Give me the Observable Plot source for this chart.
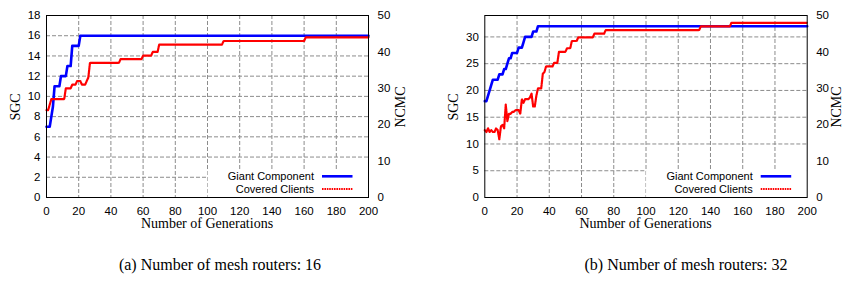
<!DOCTYPE html>
<html><head><meta charset="utf-8">
<script src="https://cdn.jsdelivr.net/npm/d3@7"></script>
<script src="https://cdn.jsdelivr.net/npm/@observablehq/plot@0.6"></script>
<style>
html,body{margin:0;padding:0;background:#fff}
body{width:843px;height:285px;overflow:hidden;position:relative}
.panel{position:absolute;top:0}
.cap{position:absolute;top:256px;font-family:"Liberation Serif",serif;font-size:16px;transform:translateX(-50%);white-space:nowrap;color:#000}
</style></head><body>
<div id="pa" class="panel" style="left:0"></div>
<div id="pb" class="panel" style="left:421px"></div>
<div class="cap" style="left:220px">(a) Number of mesh routers: 16</div>
<div class="cap" style="left:686px">(b) Number of mesh routers: 32</div>
<script>
// ---- data: panel (a), 16 mesh routers ----
const giantA_gen = [0,2,3,4,5,8,9,12,13,15,16,20,21,200];
const giantA_sgc = [7,7,8,9,11,11,12,12,13,13,15,15,16,16];
const coveredA_gen = [0,1,3,11,12,15,16,18,19,21,22,24,25,26,27,45,46,59,60,65,66,69,70,109,110,160,161,200];
const coveredA_ncmc = [24,24,27,27,30,30,31,31,32,32,31,31,32,33,37,37,38,38,39,39,40,40,42,42,43,43,44,44];
// ---- data: panel (b), 32 mesh routers ----
const giantB_gen = [0,1,5,8,9,11,12,13,14,15,16,17,20,21,23,24,25,29,30,32,33,200];
const giantB_sgc = [18,18,22,22,23,23,24,24,25,26,26,27,27,28,28,29,30,30,31,31,32,32];
const coveredB_gen = [0,1,2,3,4,5,6,7,8,9,10,11,12,13,14,15,16,17,18,19,20,21,22,23,24,25,26,27,28,29,30,31,32,33,35,36,37,38,42,43,45,46,50,51,53,54,57,58,67,68,74,75,133,134,152,153,200];
const coveredB_ncmc = [18.5,18,19,18,18.5,18,18,19,18.5,16,19.5,20,19,25.5,21,23,23,23.5,23.5,24,24,24,23,27,26,27,27,27,27.5,28.5,25,25,28,30,30,34,34.5,36,36,37,37,40,40,41,41,43,43,44,44,45,45,46,46,47,47,48,48];
// ---- axes ----
const genTicks = [0,20,40,60,80,100,120,140,160,180,200];
const sgcTicksA = [0,2,4,6,8,10,12,14,16,18];
const sgcTicksB = [0,5,10,15,20,25,30];
const ncmcTicks = [0,10,20,30,40,50];
const sgcMaxA = 18, sgcMaxB = 34, ncmcMax = 50;
const seriesNames = ["Giant Component","Covered Clients"];

function panel(el, o){
  const k = o.yMax / ncmcMax;
  const gc = o.gGen.map((g,i)=>({gen:g, v:o.gVal[i]}));
  const cc = o.cGen.map((g,i)=>({gen:g, v:o.cVal[i]*k}));
  const grid = {stroke:"#8c8c8c", strokeOpacity:1, strokeWidth:1, strokeDasharray:"4,2"};
  const chart = Plot.plot({
    width:o.width, height:240,
    marginLeft:o.ml, marginRight:o.mr, marginTop:15, marginBottom:43,
    x:{domain:[0,200]},
    y:{domain:[0,o.yMax]},
    style:{fontFamily:"'Liberation Sans',Arial,sans-serif", fontSize:"11.5px", color:"#000", background:"transparent", overflow:"visible"},
    marks:[
      Plot.gridX(genTicks.slice(1,-1), grid),
      Plot.gridY(o.yTicks.slice(1).filter(v=>v<o.yMax), grid),
      Plot.lineY(gc,{x:"gen", y:"v", stroke:"#0000ff", strokeWidth:2.6}),
      Plot.lineY(cc,{x:"gen", y:"v", stroke:"#ff0000", strokeWidth:2.2, strokeDasharray:"1.6,0.8"}),
      Plot.axisX(genTicks,{tickSize:0, tickPadding:9, label:null}),
      Plot.axisY(o.yTicks,{tickSize:0, tickPadding:6, label:null}),
      Plot.axisY(ncmcTicks.map(v=>v*k),{anchor:"right", tickSize:0, tickPadding:9, tickFormat:d=>String(Math.round(d/k)), label:null})
    ]
  });
  const svg = d3.select(chart);
  const x = chart.scale("x");
  const L = o.ml, R = o.width - o.mr, T = 15, B = 197;
  // legend box (blanks the grid)
  const bx = x.apply(100) + 0.6;
  svg.append("rect").attr("x", bx).attr("y", 169.5).attr("width", R - bx).attr("height", B - 169.5).attr("fill", "#fff");
  // frame
  svg.append("rect").attr("x", L).attr("y", T).attr("width", R - L).attr("height", B - T)
     .attr("fill","none").attr("stroke","#000").attr("stroke-width",1).attr("transform","translate(0.5,0.5)");
  // legend entries
  const lg = svg.append("g").attr("font-family","'Liberation Sans',Arial,sans-serif").attr("font-size","11px");
  const rows = [{y:176.3, stroke:"#0000ff", w:2.6, dash:null},{y:189.0, stroke:"#ff0000", w:2.2, dash:"1.6,0.8"}];
  rows.forEach((r,i)=>{
    lg.append("text").attr("x", R-54).attr("y", r.y+4).attr("text-anchor","end").text(seriesNames[i]);
    const ln = lg.append("line").attr("x1", R-46).attr("x2", R-15.5).attr("y1", r.y).attr("y2", r.y)
      .attr("stroke", r.stroke).attr("stroke-width", r.w);
    if (r.dash) ln.attr("stroke-dasharray", r.dash);
  });
  // axis titles
  const tt = svg.append("g").attr("font-family","'Liberation Serif','Times New Roman',serif").attr("font-size","14px").attr("fill","#000");
  tt.append("text").attr("x",(L+R)/2).attr("y",227.5).attr("text-anchor","middle").text("Number of Generations");
  tt.append("text").attr("transform",`translate(${o.sgcX},107) rotate(-90)`).attr("text-anchor","middle").text("SGC");
  tt.append("text").attr("transform",`translate(${o.ncmcX},107) rotate(-90)`).attr("text-anchor","middle").text("NCMC");
  document.getElementById(el).appendChild(chart);
}

panel("pa",{width:421, ml:46, mr:53, yMax:sgcMaxA, yTicks:sgcTicksA,
  gGen:giantA_gen, gVal:giantA_sgc, cGen:coveredA_gen, cVal:coveredA_ncmc, sgcX:19.5, ncmcX:404.5});
panel("pb",{width:422, ml:63.3, mr:36.3, yMax:sgcMaxB, yTicks:sgcTicksB,
  gGen:giantB_gen, gVal:giantB_sgc, cGen:coveredB_gen, cVal:coveredB_ncmc, sgcX:37, ncmcX:419.5});
</script>
</body></html>
